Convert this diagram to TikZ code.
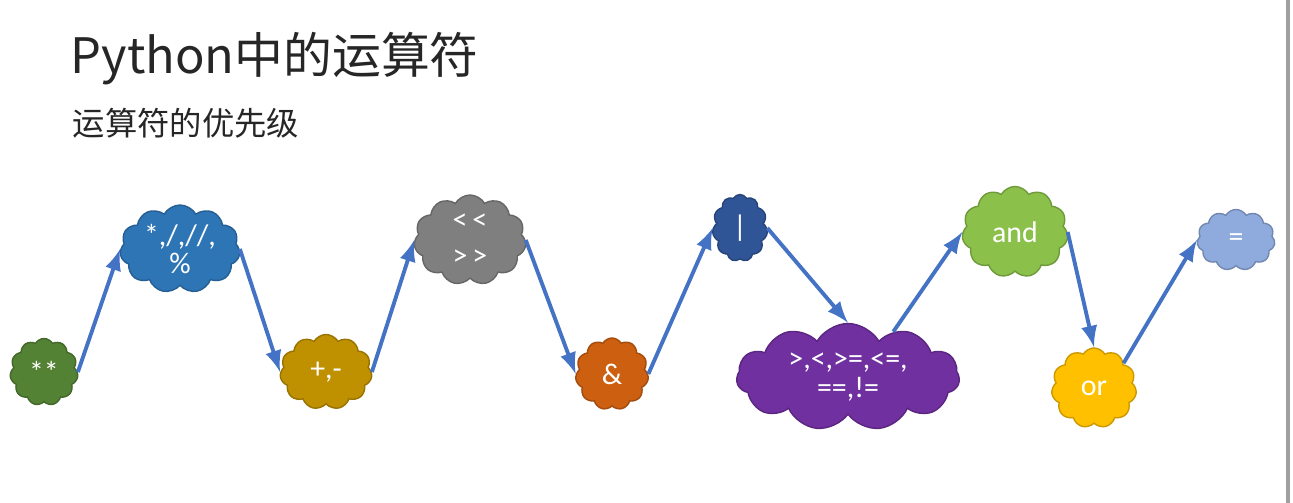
\documentclass[tikz,border=0pt]{standalone}
\usepackage{fontspec}
\setmainfont{Carlito}
\newfontfamily\cjk{Noto Sans CJK SC}
\usetikzlibrary{shapes.symbols}
\definecolor{vertFonce}{HTML}{548235}
\definecolor{bleuMoyen}{HTML}{2E75B6}
\definecolor{ocre}{HTML}{BF9000}
\definecolor{grisNuage}{HTML}{7F7F7F}
\definecolor{orange}{HTML}{CC5F10}
\definecolor{bleuFonce}{HTML}{2F5597}
\definecolor{violet}{HTML}{7030A0}
\definecolor{vertClair}{HTML}{8BC14A}
\definecolor{jaune}{HTML}{FFC000}
\definecolor{bleuClair}{HTML}{8FAADC}
\definecolor{flecheBleu}{HTML}{4472C4}
\definecolor{bordGris}{HTML}{A0A0A0}

\begin{document}
\begin{tikzpicture}
      \tikzstyle{nuage}=[cloud,cloud puffs=11,cloud puff arc=120,cloud ignores aspect,inner sep=0pt,text=white,align=center,font=\fontsize{8.5}{8.2}\selectfont]
      \tikzstyle{fleche}=[line width=1.1pt,->,>=latex,draw=flecheBleu]
      \fill[white] (0,0) rectangle (12.93,5.03);
      \useasboundingbox (0,0) rectangle (12.93,5.03);
      \draw[line width=0.9pt,bordGris] (12.88,0)--(12.88,5.03);
      \node[anchor=base west,inner sep=0pt,text=black!85] (titre) at (0.70,4.29) {\cjk\fontsize{13.9}{16}\selectfont Python中的运算符};
      \node[anchor=base west,inner sep=0pt,text=black!85] (soustitre) at (0.72,3.67) {\cjk\fontsize{9.2}{11}\selectfont 运算符的优先级};
      \node[nuage,fill=vertFonce,draw=vertFonce!80!black,minimum width=0.68cm,minimum height=0.67cm] (op1) at (0.44,1.31) {**};
      \node[nuage,fill=bleuMoyen,draw=bleuMoyen!80!black,minimum width=1.20cm,minimum height=0.88cm] (op2) at (1.80,2.54) {*,/,//,\\\%};
      \node[nuage,fill=ocre,draw=ocre!80!black,minimum width=0.92cm,minimum height=0.75cm] (op3) at (3.26,1.31) {+,-};
      \node[nuage,fill=grisNuage,draw=grisNuage!80!black,minimum width=1.12cm,minimum height=0.90cm] (op4) at (4.70,2.63) {{<}\,{<}\\[2pt]{>}\,{>}};
      \node[nuage,fill=orange,draw=orange!80!black,minimum width=0.73cm,minimum height=0.72cm] (op5) at (6.12,1.29) {\&};
      \node[nuage,fill=bleuFonce,draw=bleuFonce!80!black,minimum width=0.55cm,minimum height=0.67cm] (op6) at (7.40,2.75) {|};
      \node[nuage,fill=violet,draw=violet!80!black,minimum width=2.23cm,minimum height=1.07cm] (op7) at (8.48,1.26) {>,<,>=,<=,\\==,!=};
      \node[nuage,fill=vertClair,draw=vertClair!80!black,minimum width=1.06cm,minimum height=0.91cm] (op8) at (10.15,2.71) {and};
      \node[nuage,fill=jaune,draw=jaune!80!black,minimum width=0.85cm,minimum height=0.80cm] (op9) at (10.94,1.15) {or};
      \node[nuage,fill=bleuClair,draw=bleuClair!80!black,minimum width=0.78cm,minimum height=0.61cm] (op10) at (12.36,2.63) {=};
      \draw[fleche] (op1.east)--(op2.west);
      \draw[fleche] (op2.east)--(op3.west);
      \draw[fleche] (op3.east)--(op4.west);
      \draw[fleche] (op4.east)--(op5.west);
      \draw[fleche] (op5.east)--(op6.west);
      \draw[fleche] (op6.east)--(op7.north);
      \draw[fleche] (op7.45)--(op8.west);
      \draw[fleche] (op8.east)--(op9.north);
      \draw[fleche] (op9.40)--(op10.west);
    \end{tikzpicture}
\end{document}
